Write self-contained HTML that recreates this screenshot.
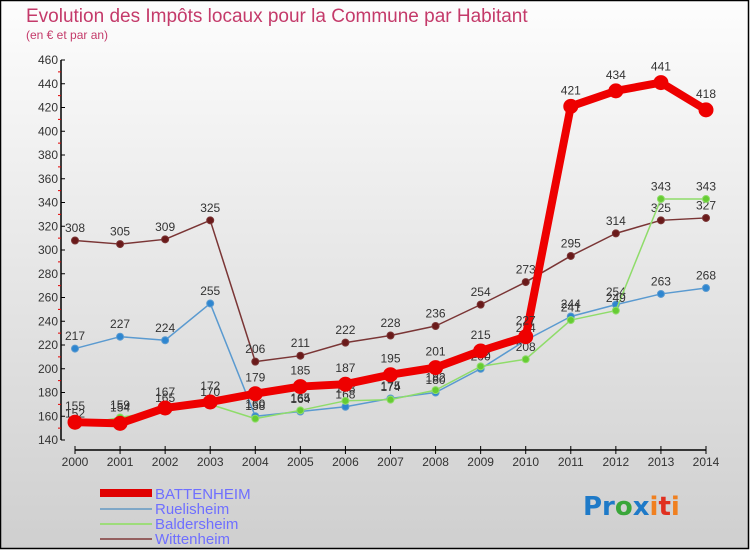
<!DOCTYPE html>
<html><head><meta charset="utf-8"><style>
html,body{margin:0;padding:0}
body{width:750px;height:550px;overflow:hidden;font-family:"Liberation Sans",sans-serif}
</style></head><body>
<svg id="chart" width="750" height="550" xmlns="http://www.w3.org/2000/svg">
<defs><linearGradient id="bg" x1="0" y1="0" x2="0" y2="1"><stop offset="0" stop-color="#fdfdfd"/><stop offset="1" stop-color="#cfcfcf"/></linearGradient></defs>
<rect x="0.5" y="0.5" width="748" height="548" fill="url(#bg)" stroke="#000" stroke-width="1.5"/>
<text x="26" y="22" font-size="19" fill="#c43a6a">Evolution des Impôts locaux pour la Commune par Habitant</text>
<text x="26" y="39" font-size="12" fill="#c43a6a">(en € et par an)</text>
<g id="axes"></g>
<g id="series"></g>
<g id="legend">
<rect x="100" y="489" width="52" height="8" fill="#e00000"/>
<text x="155" y="499" font-size="15" fill="#6f6fff">BATTENHEIM</text>
<line x1="100" y1="509" x2="152" y2="509" stroke="#7fa7c7" stroke-width="2"/>
<text x="155" y="514" font-size="15" fill="#6f6fff">Ruelisheim</text>
<line x1="100" y1="524" x2="152" y2="524" stroke="#9ddc7a" stroke-width="2"/>
<text x="155" y="529" font-size="15" fill="#6f6fff">Baldersheim</text>
<line x1="100" y1="539" x2="152" y2="539" stroke="#946060" stroke-width="2"/>
<text x="155" y="544" font-size="15" fill="#6f6fff">Wittenheim</text>
</g>
<text x="583" y="515" font-size="26" font-weight="bold" font-family="'DejaVu Sans',sans-serif"><tspan fill="#1e7ac8">Pr</tspan><tspan fill="#3aa63a">o</tspan><tspan fill="#1e7ac8">x</tspan><tspan fill="#f08020">i</tspan><tspan fill="#e03020">t</tspan><tspan fill="#f08020">i</tspan></text>
</svg>
<script>
const years=[2000,2001,2002,2003,2004,2005,2006,2007,2008,2009,2010,2011,2012,2013,2014];
const battenheim=[155,154,167,172,179,185,187,195,201,215,227,421,434,441,418];
const ruelisheim=[217,227,224,255,160,164,168,175,180,200,224,244,254,263,268];
const baldersheim=[152,159,165,170,158,165,173,174,182,202,208,241,249,343,343];
const wittenheim=[308,305,309,325,206,211,222,228,236,254,273,295,314,325,327];
const yTicks=[140,160,180,200,220,240,260,280,300,320,340,360,380,400,420,440,460];
const NS="http://www.w3.org/2000/svg";
function xs(i){return 75+i*(706-75)/14;}
function ys(v){return 440-(v-140)*380/320;}
function mk(tag,attrs,parent,txt){const e=document.createElementNS(NS,tag);for(const k in attrs)e.setAttribute(k,attrs[k]);if(txt!==undefined)e.textContent=txt;parent.appendChild(e);return e;}
const ax=document.getElementById('axes');
let yl=mk('line',{x1:61,y1:ys(460),x2:61,y2:ys(140),stroke:'#000','stroke-width':1.5},ax);


yTicks.forEach((t,i)=>{
 let tk=mk('line',{x1:61,y1:ys(t),x2:65,y2:ys(t),stroke:'#000'},ax);
 
 
 let lb=mk('text',{x:58,y:ys(t)+4,'font-size':12,fill:'#333','text-anchor':'end'},ax,t);
 
 
 if(i<yTicks.length-1){let m=mk('line',{x1:58,y1:ys(t+10),x2:61,y2:ys(t+10),stroke:'#e00000'},ax);
 
 }
});
let xl=mk('line',{x1:xs(0),y1:450,x2:xs(14),y2:450,stroke:'#000','stroke-width':1.5},ax);


years.forEach((y,i)=>{
 let tk=mk('line',{x1:xs(i),y1:446,x2:xs(i),y2:454,stroke:'#000'},ax);
 
 
 let lb=mk('text',{x:xs(i),y:466,'font-size':12,fill:'#333','text-anchor':'middle'},ax,y);
 
 
});
const sg=document.getElementById('series');
function draw(name,data,color,w,r,dot){
 const g=mk('g',{},sg);
 
 
 const pl=mk('polyline',{points:data.map((v,i)=>xs(i)+','+ys(v)).join(' '),fill:'none',stroke:color,'stroke-width':w,'stroke-linejoin':'round'},g);
 
 
 data.forEach((v,i)=>{
  const c=mk('circle',{cx:xs(i),cy:ys(v),r:r,fill:dot,stroke:color,'stroke-width':1},g);
  
  
  const t=mk('text',{x:xs(i),y:ys(v)-r-5,'font-size':12,fill:'#333','text-anchor':'middle'},g,v);
  
  
 });
}
draw('wittenheim',wittenheim,'#7a3535',1.5,3.5,'#6a1a1a');
draw('ruelisheim',ruelisheim,'#5a9ad0',1.5,3.5,'#2e86d0');
draw('baldersheim',baldersheim,'#8fdc6a',1.5,3.5,'#66cc33');
draw('battenheim',battenheim,'#ee0000',8,7,'#ee0000');
</script>
</body></html>
